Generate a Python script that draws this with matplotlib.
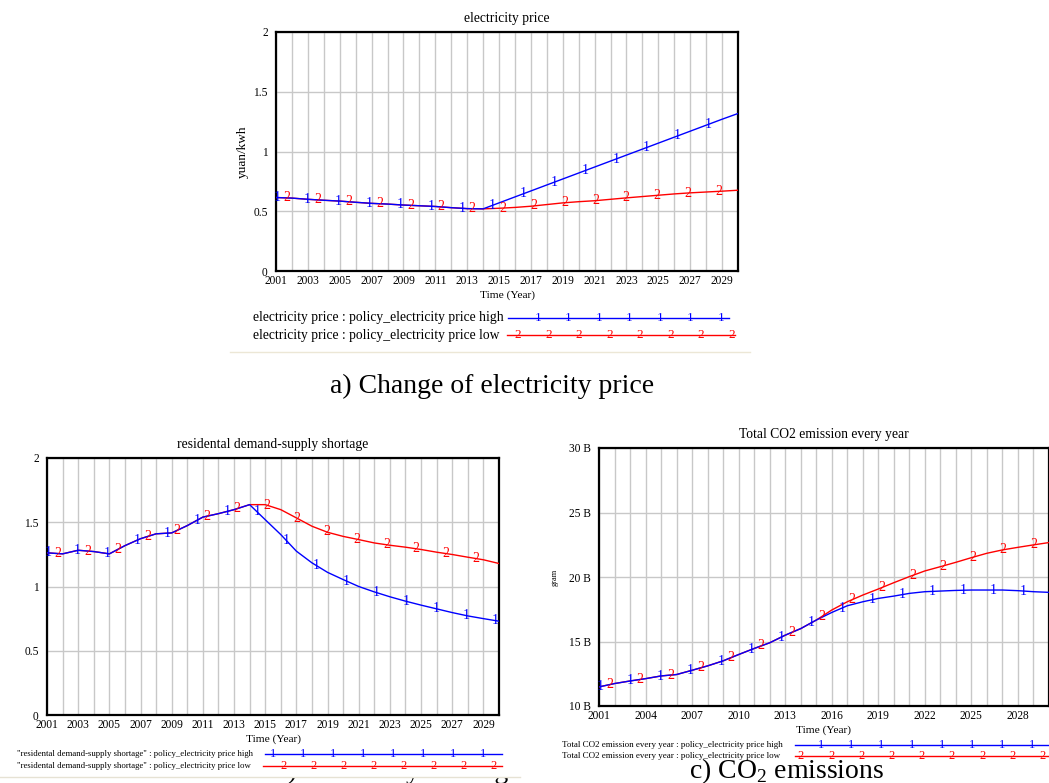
import numpy as np
import matplotlib.pyplot as plt

plt.rcParams['font.family'] = ['Liberation Serif', 'DejaVu Serif']
plt.rcParams['mathtext.fontset'] = 'custom'
plt.rcParams['mathtext.rm'] = 'Liberation Serif'

# Data, one value per year 2001..2030
years = np.arange(2001, 2031)

price_high = [0.615, 0.610, 0.600, 0.592, 0.585, 0.575, 0.566, 0.560, 0.552, 0.546,
              0.540, 0.530, 0.522, 0.520, 0.570, 0.620, 0.670, 0.720, 0.770, 0.820,
              0.870, 0.920, 0.970, 1.020, 1.070, 1.120, 1.170, 1.220, 1.270, 1.318]
price_low = [0.615, 0.610, 0.600, 0.592, 0.585, 0.575, 0.566, 0.560, 0.552, 0.546,
             0.540, 0.530, 0.522, 0.520, 0.525, 0.532, 0.542, 0.556, 0.570, 0.580,
             0.588, 0.600, 0.612, 0.623, 0.634, 0.645, 0.654, 0.661, 0.668, 0.676]

shortage_high = [1.262, 1.254, 1.282, 1.272, 1.254, 1.318, 1.372, 1.410, 1.417, 1.474,
                 1.540, 1.567, 1.598, 1.637, 1.520, 1.404, 1.275, 1.184, 1.110, 1.054,
                 1.000, 0.958, 0.920, 0.886, 0.855, 0.826, 0.797, 0.771, 0.750, 0.730]
shortage_low = [1.262, 1.254, 1.282, 1.272, 1.254, 1.318, 1.372, 1.410, 1.417, 1.474,
                1.540, 1.567, 1.598, 1.637, 1.637, 1.598, 1.534, 1.469, 1.422, 1.390,
                1.365, 1.339, 1.321, 1.306, 1.288, 1.267, 1.249, 1.228, 1.208, 1.179]

# CO2 in billion gram
co2_high = [11.48, 11.74, 11.94, 12.12, 12.33, 12.44, 12.77, 13.11, 13.50, 13.99,
            14.46, 14.90, 15.49, 16.00, 16.66, 17.25, 17.77, 18.08, 18.34, 18.52,
            18.73, 18.86, 18.91, 18.96, 18.99, 18.99, 18.99, 18.94, 18.86, 18.81]
co2_low = [11.48, 11.74, 11.94, 12.12, 12.33, 12.44, 12.77, 13.11, 13.50, 13.99,
           14.46, 14.90, 15.49, 16.00, 16.66, 17.44, 18.08, 18.60, 19.07, 19.56,
           20.03, 20.47, 20.80, 21.14, 21.50, 21.84, 22.10, 22.30, 22.49, 22.67]

unit_ticks = [0, 0.5, 1, 1.5, 2]
unit_labels = ['0', '0.5', '1', '1.5', '2']
co2_ticks = [10, 15, 20, 25, 30]
co2_labels = ['10 B', '15 B', '20 B', '25 B', '30 B']

BLUE = '#0000ff'
RED = '#ff0000'
W, H = 1049, 783

fig = plt.figure(figsize=(W / 100, H / 100), dpi=100)

# overlay in pixel coordinates for captions and Vensim style legends
ov = fig.add_axes([0, 0, 1, 1], zorder=0)
ov.set_xlim(0, W)
ov.set_ylim(H, 0)
ov.axis('off')


def px_axes(left, top, right, bottom):
    return fig.add_axes([left / W, 1 - bottom / H, (right - left) / W, (bottom - top) / H], zorder=2)


def panel(ax, title, hi, lo, yticks, ylabels, xticks, ylim, xlab_y, step):
    ax.plot(years, lo, color=RED, lw=1, zorder=3)
    ax.plot(years, hi, color=BLUE, lw=1, zorder=3)
    # numbered markers along the curves
    for vals, color, start, lab in [(lo, RED, 2001.7, '2'), (hi, BLUE, 2001.05, '1')]:
        xm = np.arange(start, 2030.0, step)
        ym = np.interp(xm, years, vals)
        for x, y in zip(xm, ym):
            ax.text(x, y, lab, color=color, fontsize=10, ha='center', va='center', zorder=4)
    ax.set_xlim(2001, 2030)
    ax.set_ylim(*ylim)
    ax.set_xticks(xticks)
    ax.set_xticks(years, minor=True)
    ax.set_yticks(yticks)
    ax.set_yticklabels(ylabels)
    ax.grid(True, which='both', color='#c8c8c8', lw=1)
    ax.set_axisbelow(True)
    ax.tick_params(which='both', length=0, labelsize=8.3)
    ax.tick_params(axis='x', pad=3)
    ax.tick_params(axis='y', pad=6)
    for s in ax.spines.values():
        s.set_linewidth(1.6)
    ax.set_title(title, fontsize=9.8, pad=7)
    ax.set_xlabel('Time (Year)', fontsize=8.2, va='center')
    ax.xaxis.set_label_coords(0.5, xlab_y)


def legend(x_text, rows, fontsize, mfs):
    # rows: (y, text, color, x0, x1, marker label, first marker x, spacing, count)
    for y, text, color, x0, x1, lab, m0, dm, n in rows:
        ov.text(x_text, y, text, fontsize=fontsize, va='center', ha='left', zorder=3)
        ov.plot([x0, x1], [y, y], color=color, lw=1, zorder=3)
        for k in range(n):
            ov.text(m0 + k * dm, y, lab, color=color, fontsize=mfs, ha='center', va='center', zorder=4)


# a) electricity price
ax_a = px_axes(276, 32, 738, 271)
panel(ax_a, 'electricity price', price_high, price_low, unit_ticks, unit_labels,
      np.arange(2001, 2030, 2), (0, 2), -0.1, 1.935)
ax_a.set_ylabel('yuan/kwh', fontsize=9.5, va='center')
ax_a.yaxis.set_label_coords(-0.071, 0.5)

legend(253, [(318, 'electricity price : policy_electricity price high', BLUE, 508, 729, '1', 538, 30.5, 7),
             (335, 'electricity price : policy_electricity price low', RED, 507, 735, '2', 518, 30.5, 8)],
       9.8, 9.5)
ov.plot([230, 750], [352, 352], color='#ece7d6', lw=1, zorder=1)
ov.text(492, 393, 'a) Change of electricity price', fontsize=20, ha='center', va='baseline', zorder=1)

# b) residential demand-supply shortage
ax_b = px_axes(47, 458, 499, 715)
panel(ax_b, 'residental demand-supply shortage', shortage_high, shortage_low, unit_ticks, unit_labels,
      np.arange(2001, 2030, 2), (0, 2), -0.093, 1.916)

ov.text(397, 778, 'b) Electricity shortage', fontsize=20, ha='center', va='baseline', zorder=1)
ov.fill_between([0, 522], 744, 776.5, color='white', zorder=2, lw=0)
legend(17, [(754, '"residental demand-supply shortage" : policy_electricity price high', BLUE, 265, 502, '1', 273, 30, 8),
            (766, '"residental demand-supply shortage" : policy_electricity price low', RED, 263, 502, '2', 284, 30, 8)],
       6.3, 9)
ov.plot([0, 520], [777, 777], color='#e6e2d4', lw=1, zorder=2)

# c) CO2 emissions
ax_c = px_axes(599, 448, 1049, 706)
panel(ax_c, 'Total CO2 emission every year', co2_high, co2_low, co2_ticks, co2_labels,
      np.arange(2001, 2030, 3), (10, 30), -0.093, 1.95)
ax_c.set_ylabel('gram', fontsize=6, va='center')
ax_c.yaxis.set_label_coords(-0.098, 0.5)

legend(562, [(745, 'Total CO2 emission every year : policy_electricity price high', BLUE, 795, 1049, '1', 821, 30.2, 8),
             (756, 'Total CO2 emission every year : policy_electricity price low', RED, 795, 1049, '2', 801, 30.2, 9)],
       6.5, 9)
ov.text(787, 778, r'c) CO$_\mathrm{2}$ emissions', fontsize=20, ha='center', va='baseline', zorder=1)

fig.savefig('out.png', dpi=100)
